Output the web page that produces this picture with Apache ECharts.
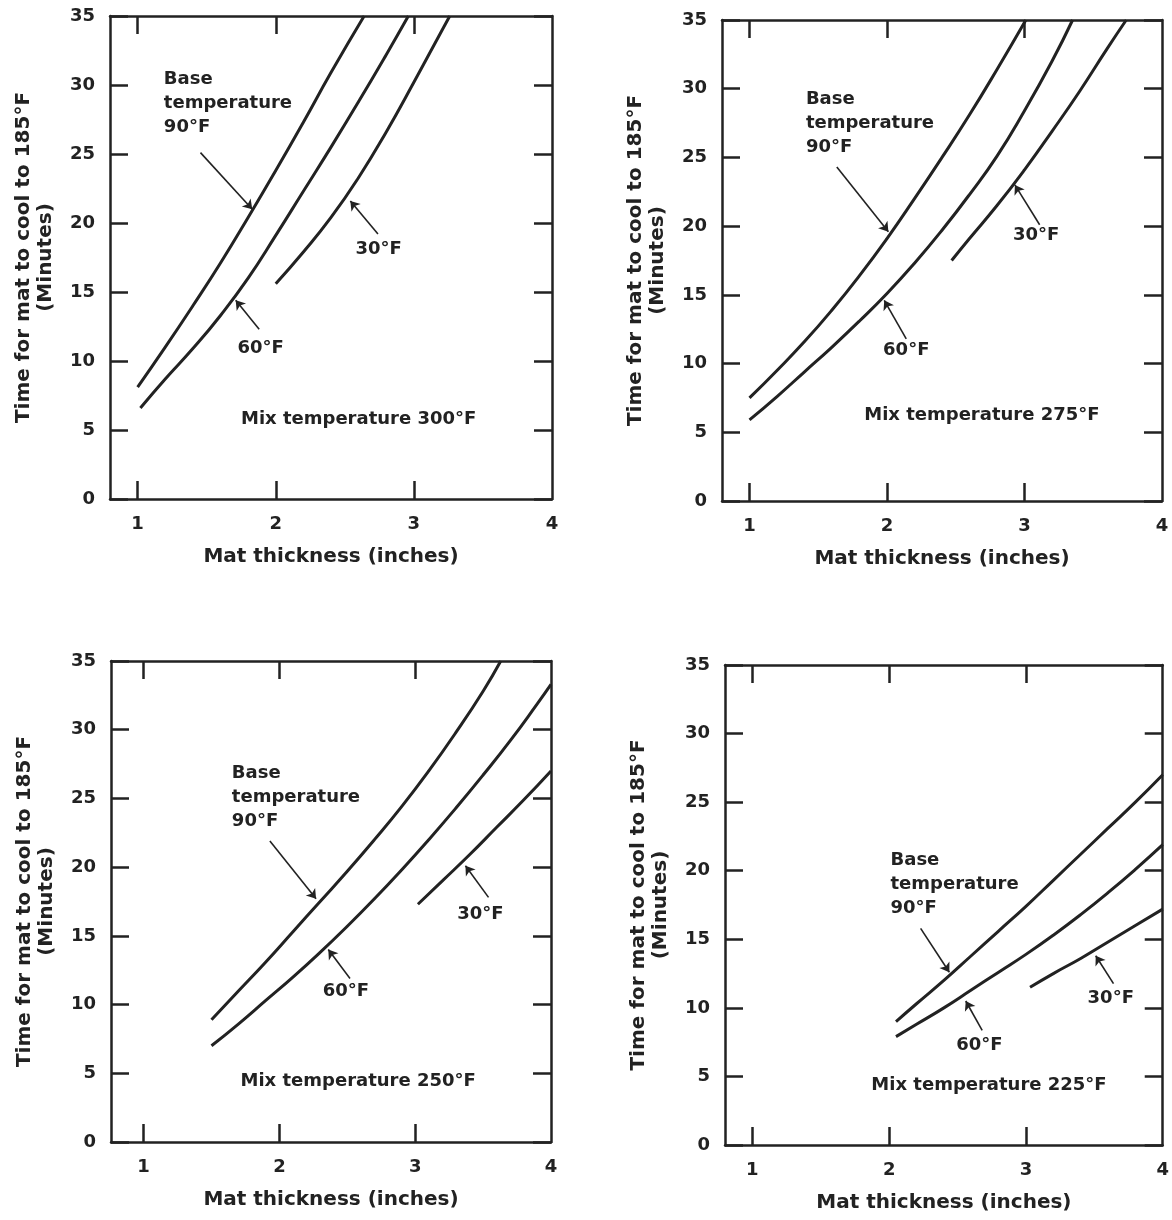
<!DOCTYPE html>
<html>
<head>
<meta charset="utf-8">
<title>Time for mat to cool to 185°F</title>
<script src="https://cdn.jsdelivr.net/npm/echarts@6/dist/echarts.min.js"></script>
<style>
  html, body { margin: 0; background: #fff; }
  #chart { width: 1172px; height: 1220px; }
</style>
</head>
<body>
<div id="chart"></div>
<script>
'use strict';

// mix temperature of each panel, base temperatures of the curves
var mixTemps = [300, 275, 250, 225];
var baseTemps = ['90°F', '60°F', '30°F'];
var xLabelValues = [1, 2, 3, 4];
var xTickValues = [1, 2, 3];

// [mat thickness (in), minutes]
var mix300_90 = [[1.0, 8.1], [1.2, 11.0], [1.4, 14.0], [1.6, 17.1], [1.8, 20.4], [2.0, 23.8], [2.2, 27.3], [2.4, 30.9], [2.64, 35]];
var mix300_60 = [[1.02, 6.6], [1.2, 8.7], [1.4, 10.9], [1.6, 13.3], [1.8, 16.0], [2.0, 19.1], [2.2, 22.3], [2.4, 25.5], [2.6, 28.8], [2.8, 32.2], [2.96, 35]];
var mix300_30 = [[2.0, 15.6], [2.2, 17.9], [2.4, 20.4], [2.6, 23.3], [2.8, 26.6], [3.0, 30.2], [3.2, 33.9], [3.26, 35]];

var mix275_90 = [[1.0, 7.5], [1.2, 9.5], [1.4, 11.6], [1.6, 13.9], [1.8, 16.4], [2.0, 19.1], [2.2, 22.0], [2.4, 25.0], [2.6, 28.1], [2.8, 31.4], [3.01, 35]];
var mix275_60 = [[1.0, 5.9], [1.2, 7.6], [1.4, 9.4], [1.6, 11.2], [1.8, 13.1], [2.0, 15.1], [2.2, 17.3], [2.4, 19.7], [2.6, 22.3], [2.8, 25.1], [3.0, 28.4], [3.2, 32.0], [3.35, 35]];
var mix275_30 = [[2.47, 17.5], [2.6, 19.1], [2.8, 21.5], [3.0, 24.1], [3.2, 26.9], [3.4, 29.8], [3.6, 32.9], [3.74, 35]];

var mix250_90 = [[1.5, 8.9], [1.7, 11.0], [1.9, 13.1], [2.1, 15.3], [2.3, 17.5], [2.5, 19.7], [2.7, 22.0], [2.9, 24.4], [3.1, 27.0], [3.3, 29.8], [3.5, 32.8], [3.63, 35]];
var mix250_60 = [[1.5, 7.0], [1.7, 8.6], [1.9, 10.3], [2.1, 12.0], [2.3, 13.8], [2.5, 15.7], [2.7, 17.7], [2.9, 19.8], [3.1, 22.0], [3.3, 24.3], [3.5, 26.7], [3.7, 29.2], [3.9, 31.9], [4.0, 33.3]];
var mix250_30 = [[3.02, 17.3], [3.2, 19.0], [3.4, 20.9], [3.6, 22.9], [3.8, 24.9], [4.0, 27.0]];

var mix225_90 = [[2.05, 9.0], [2.2, 10.3], [2.4, 12.0], [2.6, 13.8], [2.8, 15.6], [3.0, 17.4], [3.2, 19.3], [3.4, 21.2], [3.6, 23.1], [3.8, 25.0], [4.0, 27.0]];
var mix225_60 = [[2.05, 7.9], [2.2, 8.8], [2.4, 10.0], [2.6, 11.3], [2.8, 12.6], [3.0, 13.9], [3.2, 15.3], [3.4, 16.8], [3.6, 18.4], [3.8, 20.1], [4.0, 21.9]];
var mix225_30 = [[3.03, 11.5], [3.2, 12.5], [3.4, 13.6], [3.6, 14.8], [3.8, 16.0], [4.0, 17.2]];

var curves = [
  [mix300_90, mix300_60, mix300_30],
  [mix275_90, mix275_60, mix275_30],
  [mix250_90, mix250_60, mix250_30],
  [mix225_90, mix225_60, mix225_30]
];

// where the notes and pointer arrows sit, in data units of each panel
var notes = [
  { base: [1.19, 31.3], a90: [[1.455, 25.1], [1.83, 21.0]], l60: [1.89, 10.9], a60: [[1.88, 12.3], [1.71, 14.4]], l30: [2.745, 18.1], a30: [[2.74, 19.2], [2.54, 21.6]], mix: [2.6, 5.8] },
  { base: [1.41, 30.1], a90: [[1.635, 24.3], [2.01, 19.6]], l60: [2.14, 11.0], a60: [[2.14, 11.8], [1.98, 14.6]], l30: [3.085, 19.3], a30: [[3.11, 20.1], [2.93, 23.0]], mix: [2.69, 6.25] },
  { base: [1.65, 27.7], a90: [[1.93, 21.9], [2.27, 17.7]], l60: [2.49, 10.97], a60: [[2.52, 11.9], [2.36, 14.0]], l30: [3.48, 16.55], a30: [[3.54, 17.8], [3.37, 20.1]], mix: [2.58, 4.4] },
  { base: [2.01, 21.6], a90: [[2.23, 15.8], [2.44, 12.6]], l60: [2.66, 7.26], a60: [[2.68, 8.36], [2.56, 10.5]], l30: [3.62, 10.67], a30: [[3.64, 11.77], [3.51, 13.8]], mix: [2.73, 4.34] }
];

var grids = [
  { left: 110, top: 16, width: 442, height: 483 },
  { left: 722, top: 20, width: 440, height: 481 },
  { left: 111, top: 661, width: 440, height: 481 },
  { left: 725, top: 665, width: 440, height: 480 }
];
var xMins = [0.8, 0.8, 0.76, 0.8];

var ink = '#222222';
var font = '"DejaVu Sans", Verdana, sans-serif';
var frame = { show: true, onZero: false, lineStyle: { color: ink, width: 2.5 } };

var xAxes = [], yAxes = [], series = [];

for (var i = 0; i < 4; i++) {
  var tickStyle = { color: ink, width: 2.5 };
  xAxes.push({
    gridIndex: i, type: 'value', position: 'bottom', min: xMins[i], max: 4,
    name: 'Mat thickness (inches)', nameLocation: 'middle', nameGap: 47,
    nameTextStyle: { color: ink, fontSize: 20, fontWeight: 'bold', lineHeight: 22, fontFamily: font },
    axisLine: frame,
    axisTick: { show: true, inside: true, length: 18, customValues: xTickValues, lineStyle: tickStyle },
    axisLabel: { customValues: xLabelValues, margin: 16, color: ink, fontSize: 18, fontWeight: 'bold', fontFamily: font },
    splitLine: { show: false }
  });
  xAxes.push({
    gridIndex: i, type: 'value', position: 'top', min: xMins[i], max: 4,
    axisLine: frame,
    axisTick: { show: true, inside: true, length: 18, customValues: xTickValues, lineStyle: tickStyle },
    axisLabel: { show: false },
    splitLine: { show: false }
  });
  yAxes.push({
    gridIndex: i, type: 'value', position: 'left', min: 0, max: 35, interval: 5,
    name: 'Time for mat to cool to 185°F\n(Minutes)', nameLocation: 'middle', nameRotate: 90, nameGap: 53,
    nameTextStyle: { color: ink, fontSize: 20, fontWeight: 'bold', lineHeight: 22, align: 'center', fontFamily: font },
    axisLine: frame,
    axisTick: { show: true, inside: true, length: 18, lineStyle: tickStyle },
    axisLabel: { margin: 15, color: ink, fontSize: 18, fontWeight: 'bold', fontFamily: font },
    splitLine: { show: false }
  });
  yAxes.push({
    gridIndex: i, type: 'value', position: 'right', min: 0, max: 35, interval: 5,
    axisLine: frame,
    axisTick: { show: true, inside: true, length: 18, lineStyle: tickStyle },
    axisLabel: { show: false },
    splitLine: { show: false }
  });

  curves[i].forEach(function (pts, k) {
    series.push({
      name: mixTemps[i] + '°F / ' + baseTemps[k],
      type: 'line', xAxisIndex: 2 * i, yAxisIndex: 2 * i,
      data: pts, showSymbol: false, smooth: true, silent: true,
      lineStyle: { color: ink, width: 3 }
    });
  });

  var n = notes[i];
  series.push({
    type: 'scatter', xAxisIndex: 2 * i, yAxisIndex: 2 * i,
    symbol: 'circle', symbolSize: 1, silent: true,
    itemStyle: { color: 'rgba(0,0,0,0)', opacity: 1 },
    label: { show: true, position: 'inside', formatter: '{b}', color: ink, fontSize: 18, fontWeight: 'bold', lineHeight: 24, fontFamily: font },
    data: [
      { value: n.base, name: 'Base\ntemperature\n' + baseTemps[0], label: { align: 'left', verticalAlign: 'top' } },
      { value: n.l60, name: baseTemps[1] },
      { value: n.l30, name: baseTemps[2] },
      { value: n.mix, name: 'Mix temperature ' + mixTemps[i] + '°F' }
    ],
    markLine: {
      silent: true, animation: false,
      symbol: ['none', 'arrow'], symbolSize: 9,
      label: { show: false },
      lineStyle: { color: ink, width: 1.6, type: 'solid', opacity: 1 },
      data: [n.a90, n.a60, n.a30].map(function (a) {
        return [{ coord: a[0] }, { coord: a[1] }];
      })
    }
  });
}

var chart = echarts.init(document.getElementById('chart'), null, { renderer: 'canvas' });
chart.setOption({
  backgroundColor: '#ffffff',
  animation: false,
  grid: grids,
  xAxis: xAxes,
  yAxis: yAxes,
  series: series
});
</script>
</body>
</html>
